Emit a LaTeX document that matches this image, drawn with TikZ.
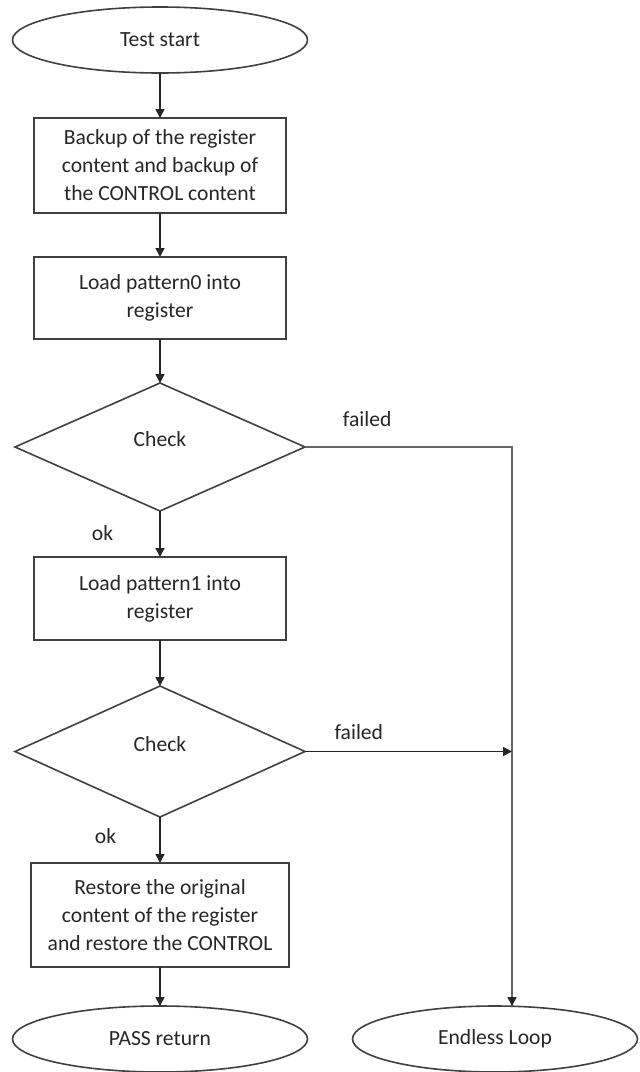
\documentclass[tikz,border=0pt]{standalone}
\usepackage{fontspec}
\setmainfont{Carlito}
\usetikzlibrary{positioning,shapes.geometric,arrows.meta}

\tikzset{
  term/.style={ellipse, draw=black!75, line width=0.8pt, outer sep=0pt, minimum width=147.5pt, minimum height=33pt, inner sep=0pt},
  proc/.style={rectangle, draw=black!75, line width=0.8pt, outer sep=0pt, minimum width=126pt, align=center},
  check/.style={diamond, draw=black!75, line width=0.8pt, outer sep=0pt, minimum width=145pt, minimum height=64pt, inner sep=0pt, text depth=8pt},
  flow/.style={-{Triangle[length=4.5pt,width=4.5pt]}, draw=black!85, line width=0.8pt},
  loop/.style={draw=black!60, line width=1pt},
}

\begin{document}
\begin{tikzpicture}[x=0.5pt, y=-0.5pt, node distance=22pt, font=\fontsize{10.8pt}{14pt}\selectfont, text=black!85]
  \useasboundingbox (0,0) rectangle (640,1072);

  \node[term] (s) at (160,40) {Test start};
  \node[proc, below=22.5pt of s, minimum height=47.5pt] (b1) {Backup of the register\\content and backup of\\the CONTROL content};
  \node[proc, below=of b1, minimum height=41pt] (b2) {Load pattern0 into\\register};
  \node[check, below=of b2] (c1) {Check};
  \node[proc, below=23pt of c1, minimum height=41.5pt] (b3) {Load pattern1 into\\register};
  \node[check, below=23pt of b3, minimum height=65.5pt] (c2) {Check};
  \node[proc, below=23pt of c2, minimum width=129pt, minimum height=52pt] (b4) {Restore the original\\content of the register\\and restore the CONTROL};
  \node[term, below=19.5pt of b4] (p) {PASS return};
  \node[term, right=22.5pt of p, minimum width=142.5pt] (e) {Endless Loop};
  \coordinate (j) at (512,0);

  \draw[flow] (s) -- (b1);
  \draw[flow] (b1) -- (b2);
  \draw[flow] (b2) -- (c1);
  \draw[flow] (c1) -- node[left=19.7pt, pos=0.48] {ok} (b3);
  \draw[flow] (b3) -- (c2);
  \draw[flow] (c2) -- node[left=18.2pt, pos=0.41] {ok} (b4);
  \draw[flow] (b4) -- (p);
  \draw[loop] (c1.east) -- node[above=6.5pt, pos=0.3] {failed} (c1.east -| j) -- (j |- e.north);
  \draw[flow] ([yshift=4.5pt]j |- e.north) -- (j |- e.north);
  \draw[flow] (c2.east) -- node[above=2pt, pos=0.26] {failed} (c2.east -| j);
\end{tikzpicture}
\end{document}
